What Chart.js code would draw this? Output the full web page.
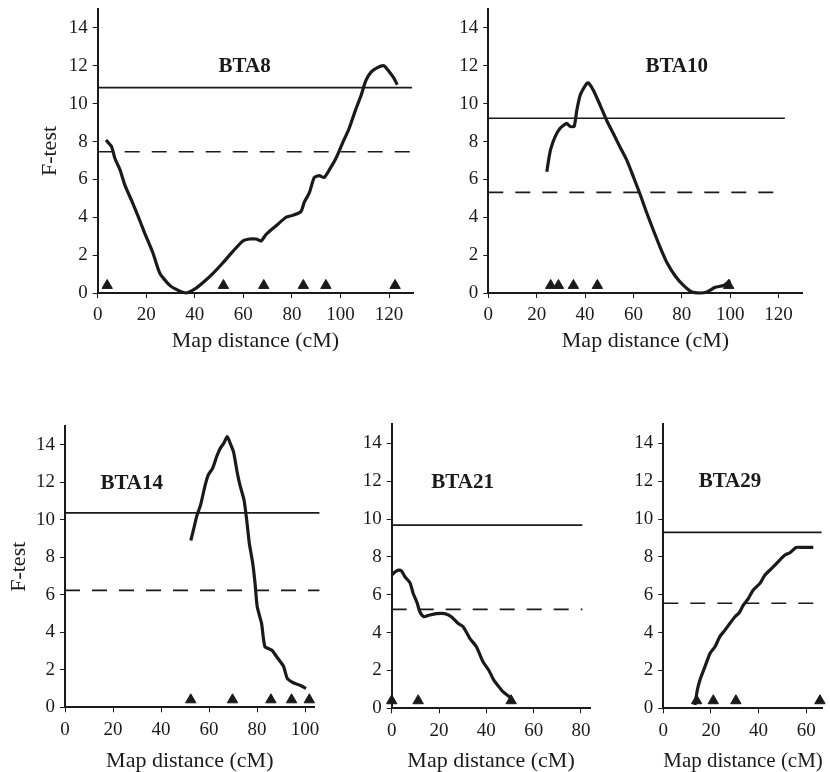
<!DOCTYPE html>
<html>
<head>
<meta charset="utf-8">
<script src="https://cdn.jsdelivr.net/npm/chart.js@4"></script>
<style>
  html, body { margin: 0; padding: 0; background: #fff; }
  #wrap { position: relative; width: 830px; height: 772px; overflow: hidden; }
  #wrap canvas { position: absolute; left: 0; top: 0; }
</style>
</head>
<body>
<div id="wrap">
  <canvas id="c1" width="830" height="772"></canvas>
  <canvas id="c2" width="830" height="772"></canvas>
  <canvas id="c3" width="830" height="772"></canvas>
  <canvas id="c4" width="830" height="772"></canvas>
  <canvas id="c5" width="830" height="772"></canvas>
</div>
<script>
// ---------- DATA ----------
const chromosomes = ['BTA8', 'BTA10', 'BTA14', 'BTA21', 'BTA29'];
const xTitle = 'Map distance (cM)';
const yTitle = 'F-test';

// BTA8
const bta8Pos = [3.4, 5.7, 7.1, 9.2, 11.2, 13.9, 16.7, 19.4, 22.8, 25.6, 29.7, 33.8, 36.5, 39.9, 43.4, 47.5, 51.6, 55.7, 59.8, 62.5, 65.3, 67.3, 69.4, 73.5, 77.6, 80.3, 83.7, 85.1, 87.2, 89.2, 91.3, 93.3, 95.4, 98.1, 100.8, 103.6, 106.3, 108.4, 110.4, 112.5, 115.2, 117.9, 120.0, 122.0, 123.4];
const bta8F   = [8.08, 7.73, 7.1, 6.5, 5.7, 4.9, 4.03, 3.15, 2.1, 1.04, 0.4, 0.1, 0.0, 0.2, 0.55, 1.04, 1.6, 2.2, 2.75, 2.85, 2.85, 2.75, 3.1, 3.55, 4.0, 4.1, 4.3, 4.8, 5.3, 6.1, 6.2, 6.1, 6.5, 7.1, 7.9, 8.7, 9.7, 10.4, 11.2, 11.65, 11.9, 12.0, 11.7, 11.35, 11.0];
const bta8Markers = [3.9, 51.8, 68.4, 84.7, 94.0, 122.5];
const bta8Thresholds = [10.85, 7.46];   // [solid, dashed]

// BTA10
const bta10Pos = [24.2, 24.9, 25.8, 27.6, 29.7, 32.4, 33.8, 35.5, 36.6, 38.0, 40.7, 41.4, 43.5, 46.3, 49.0, 51.8, 54.5, 57.3, 60.1, 62.8, 65.6, 68.3, 71.1, 73.9, 77.3, 80.7, 84.2, 87.6, 90.4, 93.8, 97.3, 100.0];
const bta10F   = [6.4, 7.0, 7.6, 8.25, 8.7, 8.96, 8.8, 8.8, 9.65, 10.45, 11.07, 11.1, 10.7, 9.9, 9.1, 8.4, 7.7, 7.0, 6.1, 5.2, 4.2, 3.3, 2.4, 1.6, 0.9, 0.4, 0.05, 0.0, 0.05, 0.3, 0.4, 0.67];
const bta10Markers = [25.8, 29.0, 35.2, 45.1, 99.4];
const bta10Thresholds = [9.23, 5.31];

// BTA14
const bta14Pos = [52.4, 53.5, 54.9, 56.5, 58.3, 59.7, 61.5, 63.2, 64.6, 66.2, 67.6, 68.8, 70.2, 71.8, 72.9, 74.6, 75.7, 76.8, 78.2, 79.2, 80.1, 81.9, 83.3, 86.1, 88.2, 91.0, 92.6, 95.1, 97.9, 100.4];
const bta14F   = [8.9, 9.45, 10.2, 10.8, 11.8, 12.4, 12.75, 13.38, 13.8, 14.1, 14.44, 14.1, 13.64, 12.5, 11.85, 11.06, 10.0, 8.75, 7.7, 6.6, 5.36, 4.48, 3.24, 3.06, 2.7, 2.2, 1.55, 1.31, 1.18, 1.0];
const bta14Markers = [52.4, 69.8, 85.8, 94.4, 101.8];
const bta14Thresholds = [10.37, 6.24];

// BTA21
const bta21Pos = [0.0, 1.4, 2.8, 4.2, 5.6, 7.7, 9.1, 10.8, 11.9, 13.6, 16.1, 18.9, 22.4, 25.2, 28.0, 30.2, 33.0, 35.8, 38.6, 41.1, 43.1, 44.9, 47.0, 49.8, 51.2];
const bta21F   = [7.04, 7.2, 7.3, 7.25, 6.95, 6.64, 6.07, 5.55, 5.1, 4.84, 4.93, 5.0, 5.0, 4.84, 4.49, 4.31, 3.7, 3.25, 2.46, 2.0, 1.5, 1.2, 0.88, 0.6, 0.35];
const bta21Markers = [0.0, 11.2, 50.5];
const bta21Thresholds = [9.68, 5.23];

// BTA29
const bta29Pos = [13.3, 14.3, 15.4, 17.5, 19.6, 21.7, 23.8, 25.9, 28.0, 30.1, 31.9, 33.6, 35.7, 37.8, 40.6, 42.7, 45.5, 48.3, 51.1, 53.2, 55.8, 58.8, 63.0];
const bta29F   = [0.18, 0.97, 1.5, 2.2, 2.9, 3.25, 3.8, 4.13, 4.49, 4.84, 5.05, 5.45, 5.8, 6.25, 6.6, 7.04, 7.39, 7.75, 8.1, 8.22, 8.5, 8.5, 8.5];
const bta29Markers = [14.0, 21.0, 30.5, 65.8];
const bta29Thresholds = [9.3, 5.55];

// tick labels
const yTickValues = [0, 2, 4, 6, 8, 10, 12, 14];
const xTicks130 = [0, 20, 40, 60, 80, 100, 120];
const xTicks100 = [0, 20, 40, 60, 80, 100];
const xTicks80  = [0, 20, 40, 60, 80];
const xTicks60  = [0, 20, 40, 60];

// ---------- RENDERING ----------
const FONT = "'Liberation Serif', 'Times New Roman', serif";
const INK = '#1a1a1a';
const MARKER_Y = 0.4;

const labelPlugin = {
  id: 'panelLabel',
  afterDatasetsDraw(chart, args, opts) {
    const {ctx, scales} = chart;
    const px = scales.x.getPixelForValue(opts.x);
    const py = scales.y.getPixelForValue(opts.y);
    ctx.save();
    ctx.font = 'bold 21px ' + FONT;
    ctx.fillStyle = INK;
    ctx.textAlign = 'center';
    ctx.textBaseline = 'middle';
    ctx.fillText(opts.text, px, py);
    ctx.restore();
  }
};

function zeroPad(s) {
  s.paddingTop = 0; s.paddingBottom = 0; s.paddingLeft = 0; s.paddingRight = 0;
}

function panel(id, p) {
  const curve = p.pos.map((x, i) => ({x: x, y: p.f[i]}));
  const markers = p.markers.map(x => ({x: x, y: MARKER_Y}));
  const solid = [{x: 0, y: p.thr[0]}, {x: p.thrEnd, y: p.thr[0]}];
  const dashed = [{x: 0, y: p.thr[1]}, {x: p.thrEnd, y: p.thr[1]}];
  new Chart(document.getElementById(id), {
    type: 'scatter',
    data: {
      datasets: [
        {data: solid, showLine: true, borderColor: INK, borderWidth: 1.7, pointRadius: 0, clip: false},
        {data: dashed, showLine: true, borderColor: INK, borderWidth: 1.7, borderDash: [15, 12], pointRadius: 0, clip: false},
        {data: curve, showLine: true, borderColor: INK, borderWidth: 3.2, tension: 0.2, pointRadius: 0, clip: false},
        {data: markers, showLine: false, pointStyle: 'triangle', pointRadius: 6, backgroundColor: INK, borderColor: INK, borderWidth: 1, clip: false}
      ]
    },
    options: {
      responsive: false,
      animation: false,
      events: [],
      layout: {padding: p.pad},
      plugins: {
        legend: {display: false},
        tooltip: {enabled: false},
        panelLabel: {text: p.name, x: p.labelAt[0], y: p.labelAt[1]}
      },
      scales: {
        x: {
          type: 'linear', position: 'bottom', min: 0, max: p.xMax,
          afterBuildTicks: s => { s.ticks = p.xTicks.map(v => ({value: v})); },
          afterFit: s => { s.height = p.hx; zeroPad(s); },
          ticks: {autoSkip: false, maxRotation: 0, padding: 6, color: INK, font: {family: FONT, size: 19}},
          grid: {drawOnChartArea: false, drawTicks: true, tickLength: 5, color: INK, lineWidth: 1},
          border: {display: true, color: INK, width: 2},
          title: {display: true, text: xTitle, color: INK, padding: 0, font: {family: FONT, size: 22, lineHeight: 1}}
        },
        y: {
          type: 'linear', position: 'left', min: 0, max: 15,
          afterBuildTicks: s => { s.ticks = yTickValues.map(v => ({value: v})); },
          afterFit: s => { s.width = p.wy; zeroPad(s); },
          ticks: {autoSkip: false, padding: 5, color: INK, font: {family: FONT, size: 19}},
          grid: {drawOnChartArea: false, drawTicks: true, tickLength: 5, color: INK, lineWidth: 1},
          border: {display: true, color: INK, width: 2},
          title: {display: p.yTitle, text: yTitle, color: INK, padding: 0, font: {family: FONT, size: 22, lineHeight: 1}}
        }
      }
    },
    plugins: [labelPlugin]
  });
}

panel('c1', {name: chromosomes[0], pos: bta8Pos, f: bta8F, markers: bta8Markers, thr: bta8Thresholds,
  thrEnd: 129.5, xMax: 130, xTicks: xTicks130, labelAt: [60.5, 11.95], yTitle: true, wy: 58.7, hx: 59,
  pad: {left: 39, top: 9, right: 416.7, bottom: 420}});
panel('c2', {name: chromosomes[1], pos: bta10Pos, f: bta10F, markers: bta10Markers, thr: bta10Thresholds,
  thrEnd: 122.6, xMax: 130, xTicks: xTicks130, labelAt: [77.9, 11.95], yTitle: false, wy: 58, hx: 59,
  pad: {left: 430.3, top: 9, right: 27.3, bottom: 420}});
panel('c3', {name: chromosomes[2], pos: bta14Pos, f: bta14F, markers: bta14Markers, thr: bta14Thresholds,
  thrEnd: 106, xMax: 104, xTicks: xTicks100, labelAt: [27.8, 11.95], yTitle: true, wy: 57, hx: 64.7,
  pad: {left: 8, top: 426.2, right: 515.4, bottom: 0}});
panel('c4', {name: chromosomes[3], pos: bta21Pos, f: bta21F, markers: bta21Markers, thr: bta21Thresholds,
  thrEnd: 80.6, xMax: 84, xTicks: xTicks80, labelAt: [30, 11.9], yTitle: false, wy: 57, hx: 63.7,
  pad: {left: 334.7, top: 424.4, right: 239.6, bottom: 0}});
panel('c5', {name: chromosomes[4], pos: bta29Pos, f: bta29F, markers: bta29Markers, thr: bta29Thresholds,
  thrEnd: 66.5, xMax: 67, xTicks: xTicks60, labelAt: [28, 12.0], yTitle: false, wy: 57, hx: 63.7,
  pad: {left: 606.3, top: 424.4, right: 7.2, bottom: 0}});
</script>
</body>
</html>
